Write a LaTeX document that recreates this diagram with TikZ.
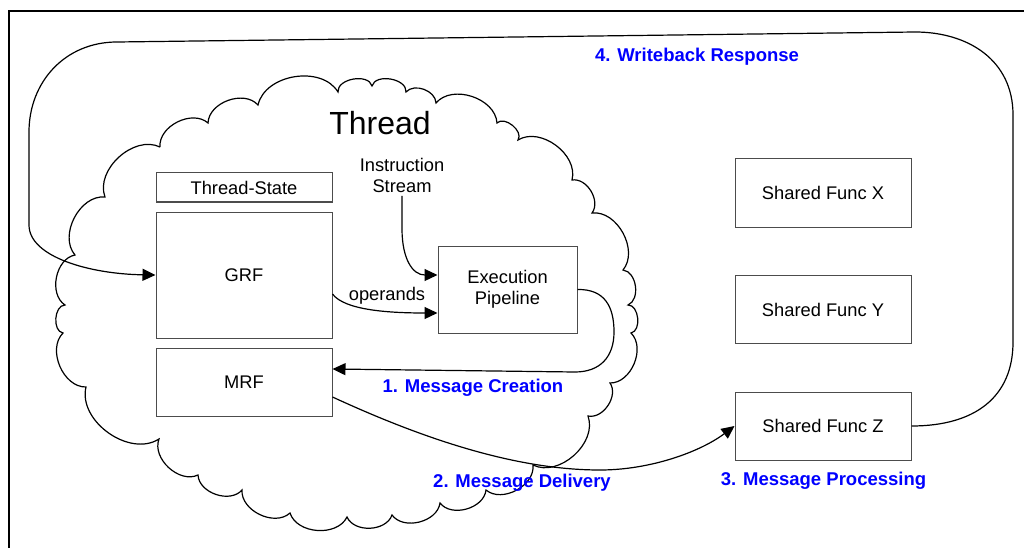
\documentclass[tikz,border=0pt]{standalone}
\usepackage{fontspec}
\setmainfont{Liberation Sans}
\usetikzlibrary{arrows.meta}
\definecolor{stepblue}{RGB}{0,0,255}
\tikzset{
  box/.style={draw=black!70, line width=1pt, fill=white, inner sep=0pt, align=center},
  conn/.style={line width=1.2pt, -{Triangle[length=13pt,width=12pt]}},
  steplbl/.style={text=stepblue, font=\fontsize{18.5}{21}\selectfont\bfseries},
  cloudline/.style={line width=1.2pt, bend left=68}
}
\begin{document}
\begin{tikzpicture}[x=1pt, y=1pt, font=\fontsize{18.3}{21}\selectfont]
  \useasboundingbox (0,0) rectangle (1024,547);
  % frame
  \draw[line width=2.2pt] (9,-20) |- (1050,536);
  % thread cloud
  \draw[cloudline] (160,400) to (208,424) to (258,442) to (338,455)
    to[bend left=85] (372,461) to[bend left=85] (406,455) to (436,444)
    to (497,424) to[bend left=85] (518,407) to (572,367) to (592,334)
    to (623,277) to[bend left=75] (628,242) to[bend left=85] (631,214)
    to (610,164) to (588,131) to (533,82) to (486,57) to (440,44)
    to (392,32) to (347,30) to (290,34) to (242,57) to (198,72)
    to (159,108) to (86,160) to (63,214) to[bend left=85] (65,242)
    to (75,292) to (105,350) to (160,400);
  \node[font=\fontsize{32}{38}\selectfont] (thread) at (380,424) {Thread};
  \node[align=center] (istream) at (402,372) {Instruction\\Stream};
  % register files and pipeline
  \node[box, minimum width=176pt, minimum height=29pt] (tstate) at (244,359.5) {Thread-State};
  \node[box, minimum width=176pt, minimum height=126pt] (grf) at (244,272) {GRF};
  \node[box, minimum width=176pt, minimum height=68pt] (mrf) at (244,165) {MRF};
  \node[box, minimum width=139pt, minimum height=87pt] (exec) at (507.5,257.5) {Execution\\Pipeline};
  % shared functions
  \node[box, minimum width=176pt, minimum height=68pt] (funcx) at (823,354) {Shared Func X};
  \node[box, minimum width=176pt, minimum height=68pt] (funcy) at (823,237.5) {Shared Func Y};
  \node[box, minimum width=176pt, minimum height=68pt] (funcz) at (823,121) {Shared Func Z};
  % messages
  \draw[conn] (istream.south) -- ++(0,-33) .. controls +(0,-30) and +(-25,0) .. ([yshift=14.5pt]exec.west);
  \draw[conn] ([yshift=-19pt]grf.east) .. controls +(12,-16) and +(-50,0) .. ([yshift=-23.5pt]exec.west);
  \node (operands) at (387,251) {operands};
  \draw[conn] (exec.east) .. controls (605,258) and (614,240) .. (614,215)
    .. controls (614,190) and (600,175) .. (575,175) -- ([yshift=13pt]mrf.east);
  \draw[conn] ([yshift=-15pt]mrf.east) .. controls (430,105) and (520,77) .. (600,77)
    .. controls (650,77) and (700,95) .. (funcz.west);
  \draw[conn] (funcz.east) .. controls (975,121) and (1013,150) .. (1013,205) -- (1013,432)
    .. controls (1013,487) and (968,515) .. (915,515) -- (117,505)
    .. controls (65,505) and (29,465) .. (29,415) -- (29,322)
    .. controls (29,290) and (90,273) .. (grf.west);
  \node[steplbl] (create) at (473,159) {1. Message Creation};
  \node[steplbl] (deliver) at (522,64) {2. Message Delivery};
  \node[steplbl] (process) at (823.5,66) {3. Message Processing};
  \node[steplbl] (writeback) at (697,490) {4. Writeback Response};
\end{tikzpicture}
\end{document}
